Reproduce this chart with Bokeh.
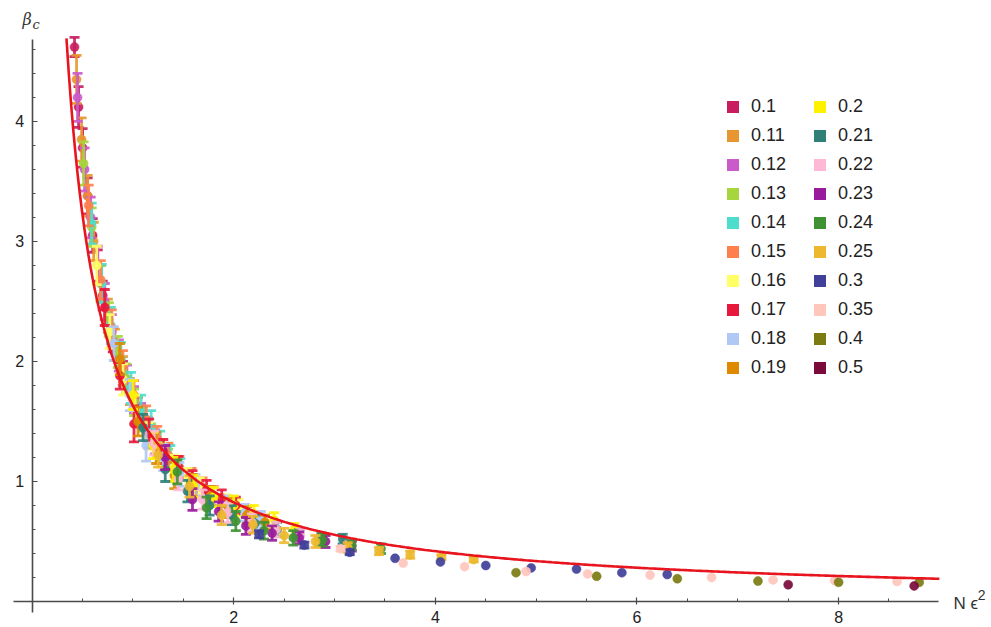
import numpy as np
from bokeh.plotting import figure
from bokeh.models import Range1d, FixedTicker, Label, Legend, LegendItem
from bokeh.embed import file_html
from bokeh.resources import INLINE

# ---------------- data ----------------
eps_labels = ["0.1", "0.11", "0.12", "0.13", "0.14", "0.15", "0.16", "0.17", "0.18", "0.19",
              "0.2", "0.21", "0.22", "0.23", "0.24", "0.25", "0.3", "0.35", "0.4", "0.5"]
eps_colors = ["#C81D5E", "#E8962F", "#C95BCB", "#A6D53C", "#4DDECB", "#FF7F4D", "#FFFF66",
              "#E8173C", "#B0C8F5", "#DD8A00", "#FFF200", "#2E8078", "#FFB8D6", "#9A1A9C",
              "#3F9233", "#EDB82D", "#40409A", "#FFC6BC", "#7B7B12", "#7A0A3C"]

x_010 = [0.42, 0.46, 0.50, 0.55, 0.60, 0.65, 0.70, 0.80, 0.90]
y_010 = [4.62, 4.12, 3.78, 3.38, 3.05, 2.80, 2.55, 2.18, 1.90]
e_010 = [0.08, 0.17, 0.16, 0.15, 0.14, 0.13, 0.12, 0.10, 0.10]

x_011 = [0.44, 0.49, 0.55, 0.61, 0.68, 0.75, 0.82, 0.90, 0.97, 1.05]
y_011 = [4.35, 3.85, 3.38, 3.00, 2.65, 2.38, 2.14, 1.92, 1.75, 1.60]
e_011 = [0.20, 0.18, 0.17, 0.16, 0.15, 0.14, 0.13, 0.12, 0.11, 0.10]

x_012 = [0.45, 0.52, 0.58, 0.65, 0.72, 0.79, 0.86, 0.94, 1.01, 1.08, 1.15, 1.22]
y_012 = [4.20, 3.60, 3.20, 2.80, 2.50, 2.25, 2.05, 1.85, 1.68, 1.55, 1.43, 1.33]
e_012 = [0.20, 0.18, 0.17, 0.16, 0.15, 0.14, 0.13, 0.12, 0.11, 0.10, 0.10, 0.10]

x_013 = [0.51, 0.59, 0.68, 0.76, 0.85, 0.93, 1.01, 1.10, 1.18, 1.27, 1.35]
y_013 = [3.65, 3.12, 2.65, 2.35, 2.08, 1.86, 1.66, 1.52, 1.38, 1.26, 1.18]
e_013 = [0.18, 0.16, 0.15, 0.14, 0.13, 0.12, 0.11, 0.10, 0.10, 0.09, 0.09]

x_014 = [0.59, 0.69, 0.78, 0.88, 0.98, 1.08, 1.18, 1.27, 1.37, 1.47, 1.57]
y_014 = [3.15, 2.65, 2.30, 2.02, 1.78, 1.60, 1.45, 1.32, 1.20, 1.10, 1.02]
e_014 = [0.17, 0.16, 0.15, 0.14, 0.13, 0.12, 0.14, 0.10, 0.10, 0.09, 0.09]

x_015 = [0.56, 0.68, 0.79, 0.90, 1.01, 1.13, 1.24, 1.35, 1.46, 1.58, 1.69, 1.80]
y_015 = [3.30, 2.68, 2.28, 1.96, 1.72, 1.52, 1.36, 1.22, 1.12, 1.02, 0.95, 0.88]
e_015 = [0.17, 0.16, 0.15, 0.13, 0.12, 0.11, 0.10, 0.10, 0.09, 0.09, 0.08, 0.08]

x_016 = [0.64, 0.77, 0.90, 1.02, 1.15, 1.28, 1.41, 1.54, 1.66, 1.79, 1.92, 2.05]
y_016 = [2.80, 2.25, 1.85, 1.60, 1.38, 1.22, 1.12, 1.02, 0.95, 0.87, 0.82, 0.78]
e_016 = [0.16, 0.14, 0.13, 0.12, 0.11, 0.10, 0.10, 0.09, 0.08, 0.08, 0.07, 0.07]

x_017 = [0.72, 0.87, 1.01, 1.16, 1.30, 1.45, 1.59, 1.73, 1.88, 2.02]
y_017 = [2.45, 1.88, 1.48, 1.40, 1.25, 1.12, 1.00, 0.93, 0.86, 0.80]
e_017 = [0.15, 0.11, 0.15, 0.12, 0.10, 0.09, 0.09, 0.08, 0.07, 0.07]

x_018 = [0.81, 0.97, 1.13, 1.30, 1.46, 1.62, 1.78, 1.94, 2.11, 2.27]
y_018 = [2.15, 1.72, 1.30, 1.20, 1.06, 0.97, 0.88, 0.80, 0.74, 0.68]
e_018 = [0.14, 0.13, 0.13, 0.11, 0.10, 0.09, 0.08, 0.08, 0.07, 0.07]

x_019 = [0.87, 1.05, 1.23, 1.41, 1.59, 1.77, 1.95, 2.13, 2.31]
y_019 = [2.02, 1.50, 1.28, 1.05, 0.97, 0.88, 0.78, 0.72, 0.66]
e_019 = [0.13, 0.12, 0.13, 0.11, 0.09, 0.08, 0.08, 0.07, 0.06]

x_020 = [1.00, 1.20, 1.40, 1.60, 1.80, 2.00, 2.20, 2.40, 2.60]
y_020 = [1.72, 1.30, 1.10, 0.96, 0.87, 0.80, 0.73, 0.68, 0.60]
e_020 = [0.12, 0.11, 0.10, 0.09, 0.08, 0.08, 0.07, 0.06, 0.05]

x_021 = [1.10, 1.32, 1.54, 1.76, 1.98, 2.21, 2.43, 2.65, 2.87, 3.08]
y_021 = [1.45, 1.10, 0.92, 0.80, 0.72, 0.65, 0.60, 0.55, 0.52, 0.52]
e_021 = [0.11, 0.10, 0.09, 0.08, 0.08, 0.07, 0.06, 0.05, 0.05, 0.04]

x_022 = [1.21, 1.45, 1.69, 1.94, 2.18, 2.42, 2.66, 2.90, 3.15]
y_022 = [1.32, 1.02, 0.85, 0.74, 0.66, 0.60, 0.55, 0.50, 0.46]
e_022 = [0.10, 0.09, 0.08, 0.08, 0.07, 0.06, 0.05, 0.05, 0.04]

x_023 = [1.32, 1.59, 1.85, 2.12, 2.38, 2.65, 2.91, 3.17]
y_023 = [1.20, 0.85, 0.75, 0.63, 0.57, 0.53, 0.50, 0.46]
e_023 = [0.10, 0.09, 0.08, 0.07, 0.06, 0.05, 0.05, 0.04]

x_024 = [1.44, 1.73, 2.02, 2.30, 2.59, 2.88, 3.17, 3.46]
y_024 = [1.08, 0.78, 0.67, 0.59, 0.53, 0.51, 0.47, 0.44]
e_024 = [0.10, 0.09, 0.08, 0.07, 0.06, 0.05, 0.04, 0.04]

x_025 = [1.25, 1.56, 1.88, 2.19, 2.50, 2.81, 3.13, 3.44, 3.75, 4.06, 4.38]
y_025 = [1.22, 0.96, 0.72, 0.64, 0.55, 0.50, 0.45, 0.42, 0.39, 0.37, 0.35]
e_025 = [0.10, 0.09, 0.08, 0.07, 0.06, 0.05, 0.04, 0.03, 0.03, 0.02, 0.02]

x_030 = [2.25, 2.70, 3.15, 3.60, 4.05, 4.50, 4.95, 5.40, 5.85, 6.30]
y_030 = [0.56, 0.47, 0.41, 0.36, 0.33, 0.30, 0.28, 0.27, 0.24, 0.225]
e_030 = [0.03, 0.025, 0.02, 0.0, 0.0, 0.0, 0.0, 0.0, 0.0, 0.0]

x_035 = [3.06, 3.68, 4.29, 4.90, 5.51, 6.13, 6.74, 7.35, 7.96, 8.58]
y_035 = [0.44, 0.32, 0.29, 0.25, 0.23, 0.22, 0.20, 0.18, 0.175, 0.167]
e_035 = [0.02, 0.0, 0.0, 0.0, 0.0, 0.0, 0.0, 0.0, 0.0, 0.0]

x_040 = [4.80, 5.60, 6.40, 7.20, 8.00, 8.80]
y_040 = [0.24, 0.21, 0.19, 0.17, 0.16, 0.16]
e_040 = [0.0, 0.0, 0.0, 0.0, 0.0, 0.0]

x_050 = [7.50, 8.75]
y_050 = [0.14, 0.13]
e_050 = [0.0, 0.0]

series_x = [x_010, x_011, x_012, x_013, x_014, x_015, x_016, x_017, x_018, x_019,
            x_020, x_021, x_022, x_023, x_024, x_025, x_030, x_035, x_040, x_050]
series_y = [y_010, y_011, y_012, y_013, y_014, y_015, y_016, y_017, y_018, y_019,
            y_020, y_021, y_022, y_023, y_024, y_025, y_030, y_035, y_040, y_050]
series_e = [e_010, e_011, e_012, e_013, e_014, e_015, e_016, e_017, e_018, e_019,
            e_020, e_021, e_022, e_023, e_024, e_025, e_030, e_035, e_040, e_050]

# fitted curve beta_c = a / (N eps^2)^b
fit_a = 1.63
fit_b = 0.98
x_ticks_major = [2, 4, 6, 8]
y_ticks_major = [1, 2, 3, 4]
x_axis_span = (-0.19, 8.99)
y_axis_span = (-0.09, 4.68)

# ---------------- figure ----------------
p = figure(width=991, height=627, x_range=Range1d(-0.3145, 9.517), y_range=Range1d(-0.2167, 5.008),
           output_backend="svg", toolbar_location=None,
           min_border_left=0, min_border_right=0, min_border_top=0, min_border_bottom=0)
p.grid.visible = False
p.outline_line_color = None
p.background_fill_color = "white"

for ax in (p.xaxis[0], p.yaxis[0]):
    ax.fixed_location = 0
    ax.axis_line_color = "#4a4a4a"
    ax.axis_line_width = 1.6
    ax.major_tick_line_color = "#4a4a4a"
    ax.minor_tick_line_color = "#4a4a4a"
    ax.major_tick_line_width = 1.2
    ax.minor_tick_line_width = 1.0
    ax.major_label_text_font = "Liberation Sans"
    ax.major_label_text_font_size = "16px"
    ax.major_label_text_color = "#222222"

p.xaxis[0].bounds = x_axis_span
p.yaxis[0].bounds = y_axis_span
xminor = [v / 2 for v in range(1, 18)]
yminor = [v / 5 for v in range(1, 24)]
p.xaxis[0].ticker = FixedTicker(ticks=x_ticks_major, minor_ticks=xminor)
p.yaxis[0].ticker = FixedTicker(ticks=y_ticks_major, minor_ticks=yminor)
p.xaxis[0].major_tick_in = 4
p.xaxis[0].major_tick_out = 3
p.xaxis[0].minor_tick_in = 3
p.xaxis[0].minor_tick_out = 0
p.xaxis[0].major_label_standoff = 7
p.yaxis[0].major_tick_in = 5
p.yaxis[0].major_tick_out = 0
p.yaxis[0].minor_tick_in = 3
p.yaxis[0].minor_tick_out = 0
p.yaxis[0].major_label_standoff = 8

# data: error bars and points
legend_renderers = []
for xs, ys, es, col in zip(series_x, series_y, series_e, eps_colors):
    xa = np.array(xs)
    ya = np.array(ys)
    ea = np.array(es)
    # zero-size rects: only provide the square legend swatch
    r = p.rect(xa, ya, width=0, height=0, fill_color=col, line_color=col, line_alpha=0.0)
    legend_renderers.append(r)
    m = ea > 0
    if m.any():
        p.segment(x0=xa[m], y0=ya[m] - ea[m], x1=xa[m], y1=ya[m] + ea[m],
                  line_color=col, line_width=2.8, line_alpha=0.9)
        p.scatter(np.concatenate([xa[m], xa[m]]), np.concatenate([ya[m] - ea[m], ya[m] + ea[m]]),
                  marker="dash", size=10, line_color=col, line_width=2.8, line_alpha=0.9)
    p.scatter(xa, ya, marker="circle", size=9, fill_color=col, line_color=col,
              fill_alpha=0.92, line_alpha=0.5)

# fit curve
cx = np.linspace(0.34, 9.0, 400)
p.line(cx, fit_a / cx ** fit_b, line_color="#E8141E", line_width=2.6)

# legends (two columns)
items1 = [LegendItem(label=l, renderers=[r]) for l, r in zip(eps_labels[:10], legend_renderers[:10])]
items2 = [LegendItem(label=l, renderers=[r]) for l, r in zip(eps_labels[10:], legend_renderers[10:])]
for items, xloc in ((items1, 725), (items2, 812)):
    leg = Legend(items=items, location=(xloc, 249), glyph_width=15, glyph_height=15,
                 label_height=15, spacing=8, padding=0, margin=0, label_standoff=11,
                 label_text_font="Liberation Sans", label_text_font_size="18px",
                 label_text_color="#222222", border_line_alpha=0, background_fill_alpha=0)
    p.add_layout(leg)

# axis labels
p.add_layout(Label(x=-0.096, y=4.846, text="β", text_font="DejaVu Serif", text_font_style="italic",
                   text_font_size="16px", text_color="#333333", text_align="left", text_baseline="middle"))
p.add_layout(Label(x=0.003, y=4.81, text="c", text_font="DejaVu Serif", text_font_style="italic",
                   text_font_size="13px", text_color="#333333", text_align="left", text_baseline="middle"))
p.add_layout(Label(x=9.14, y=-0.017, text="N ϵ", text_font="Liberation Sans",
                   text_font_size="17px", text_color="#333333", text_align="left", text_baseline="middle"))
p.add_layout(Label(x=9.38, y=0.055, text="2", text_font="Liberation Sans",
                   text_font_size="14px", text_color="#333333", text_align="left", text_baseline="middle"))

open("out.html", "w").write(file_html(p, INLINE))
